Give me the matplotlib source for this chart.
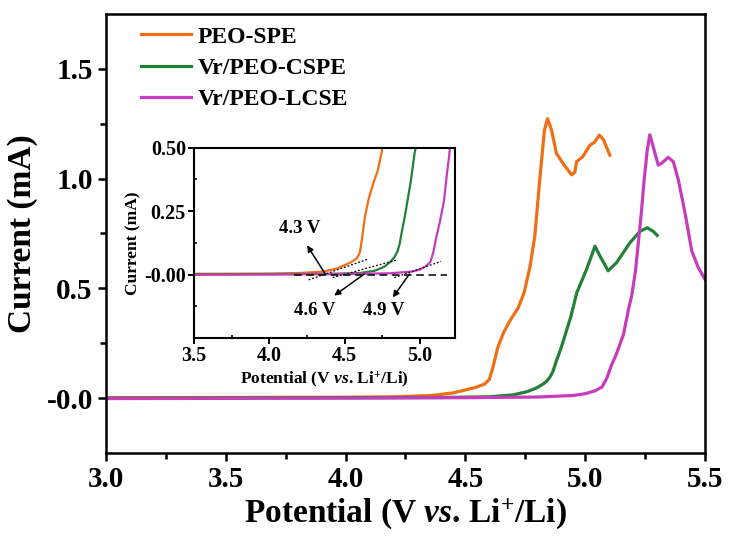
import matplotlib
matplotlib.use('Agg')
import matplotlib.pyplot as plt
from matplotlib.ticker import MultipleLocator, FixedLocator

plt.rcParams['font.family'] = 'Liberation Serif'
plt.rcParams['font.weight'] = 'bold'
plt.rcParams['axes.labelweight'] = 'bold'
plt.rcParams['mathtext.fontset'] = 'custom'
plt.rcParams['mathtext.rm'] = 'Liberation Serif:bold'
plt.rcParams['mathtext.it'] = 'Liberation Serif:italic:bold'
plt.rcParams['mathtext.bf'] = 'Liberation Serif:bold'

# LSV curves (potential in V vs Li+/Li, current in mA)
spe_v = [3.0, 3.5, 4.0, 4.2, 4.36, 4.45, 4.54, 4.58, 4.60, 4.615, 4.635, 4.66,
         4.69, 4.72, 4.745, 4.77, 4.79, 4.81, 4.83, 4.843, 4.86, 4.88, 4.91,
         4.944, 4.957, 4.964, 4.99, 5.02, 5.04, 5.059, 5.076, 5.103]
spe_i = [0.002, 0.003, 0.004, 0.006, 0.012, 0.024, 0.048, 0.064, 0.085, 0.14,
         0.23, 0.30, 0.36, 0.41, 0.48, 0.60, 0.74, 0.99, 1.22, 1.273, 1.22,
         1.115, 1.065, 1.017, 1.03, 1.077, 1.10, 1.152, 1.167, 1.198, 1.178, 1.107]

cspe_v = [3.0, 3.5, 4.0, 4.4, 4.6, 4.7, 4.76, 4.80, 4.83, 4.85, 4.865, 4.88,
          4.90, 4.92, 4.94, 4.965, 5.006, 5.041, 5.062, 5.096, 5.131, 5.187,
          5.229, 5.259, 5.284, 5.301]
cspe_i = [0.0, 0.001, 0.002, 0.003, 0.006, 0.015, 0.03, 0.048, 0.068, 0.09,
          0.12, 0.17, 0.23, 0.30, 0.37, 0.48, 0.587, 0.692, 0.647, 0.58, 0.617,
          0.708, 0.76, 0.776, 0.76, 0.741]

lcse_v = [3.0, 3.5, 4.0, 4.5, 4.8, 4.95, 5.0, 5.04, 5.07, 5.09, 5.11, 5.13,
          5.16, 5.18, 5.195, 5.21, 5.222, 5.235, 5.245, 5.259, 5.27, 5.284,
          5.305, 5.319, 5.347, 5.368, 5.389, 5.417, 5.445, 5.472, 5.5]
lcse_i = [-0.002, -0.001, 0.0, 0.002, 0.005, 0.012, 0.02, 0.033, 0.05, 0.09,
          0.15, 0.2, 0.29, 0.40, 0.47, 0.58, 0.708, 0.85, 0.98, 1.13, 1.2, 1.145,
          1.062, 1.07, 1.097, 1.077, 0.994, 0.843, 0.67, 0.595, 0.542]

labels = ['PEO-SPE', 'Vr/PEO-CSPE', 'Vr/PEO-LCSE']
colors = ['#F06E14', '#238039', '#C63CBC']

# onset tangents (dotted), baseline (dashed) and annotations in the inset
tangent_v = [[4.26, 4.66], [4.42, 4.85], [4.83, 5.14]]
tangent_i = [[-0.021, 0.062], [-0.012, 0.058], [-0.012, 0.052]]
baseline_v = [4.16, 5.18]
onset_text = ['4.3 V', '4.6 V', '4.9 V']
onset_tail = [(4.37, 0.003), (4.63, 0.002), (4.93, 0.002)]
onset_head = [(4.25, 0.115), (4.43, -0.083), (4.82, -0.09)]
onset_label = [(4.2, 0.18), (4.30, -0.14), (4.76, -0.14)]

series = [(spe_v, spe_i), (cspe_v, cspe_i), (lcse_v, lcse_i)]
xlab = r'Potential (V $\mathit{vs}$. Li$^{+}$/Li)'

fig = plt.figure(figsize=(7.29, 5.42), dpi=100)
ax = fig.add_axes([0.1454, 0.1642, 0.8216, 0.81])

for (v, i), lab, c in zip(series, labels, colors):
    ax.plot(v, i, color=c, lw=2.3, label=lab, solid_joinstyle='round')

ax.set_xlim(3.0, 5.5)
ax.set_ylim(-0.25, 1.75)
ax.xaxis.set_major_locator(MultipleLocator(0.5))
ax.xaxis.set_minor_locator(MultipleLocator(0.25))
ax.yaxis.set_major_locator(FixedLocator([0.0, 0.5, 1.0, 1.5]))
ax.yaxis.set_minor_locator(FixedLocator([0.25, 0.75, 1.25]))
ax.set_yticklabels(['-0.0', '0.5', '1.0', '1.5'])
ax.tick_params(which='both', direction='out', width=1.8, labelsize=21)
ax.tick_params(which='major', length=6)
ax.tick_params(which='minor', length=4)
for s in ax.spines.values():
    s.set_linewidth(1.8)
ax.set_xlabel(xlab, fontsize=24, labelpad=2)
ax.set_ylabel('Current (mA)', fontsize=24, labelpad=6)

ax.legend(loc='upper left', bbox_to_anchor=(0.023, 1.021), frameon=False,
          fontsize=17, handlelength=2.1, handletextpad=0.3, labelspacing=0.42)

# inset zoom of the onset region
ins = fig.add_axes([0.2665, 0.3764, 0.3576, 0.3511])
for (v, i), c in zip(series, colors):
    ins.plot(v, i, color=c, lw=1.6, solid_joinstyle='round')
ins.plot(baseline_v, [0, 0], color='k', lw=1.1, ls=(0, (5, 3)))
for tv, ti in zip(tangent_v, tangent_i):
    ins.plot(tv, ti, color='k', lw=0.9, ls=(0, (1.5, 1.5)))
for txt, tail, head, pos in zip(onset_text, onset_tail, onset_head, onset_label):
    ins.annotate('', xy=head, xytext=tail,
                 arrowprops=dict(arrowstyle='-|>', color='k', lw=1.1,
                                 mutation_scale=9, shrinkA=0, shrinkB=0))
    ins.text(pos[0], pos[1], txt, fontsize=13.5, ha='center', va='center')

ins.set_xlim(3.5, 5.233)
ins.set_ylim(-0.25, 0.5)
ins.xaxis.set_major_locator(MultipleLocator(0.5))
ins.xaxis.set_minor_locator(MultipleLocator(0.25))
ins.yaxis.set_major_locator(FixedLocator([0.0, 0.25, 0.5]))
ins.yaxis.set_minor_locator(FixedLocator([-0.125, 0.125, 0.375]))
ins.set_yticklabels(['-0.00', '0.25', '0.50'])
ins.tick_params(which='major', direction='out', length=4, width=1.4, labelsize=14.5, pad=2)
ins.tick_params(which='minor', direction='in', length=2.5, width=1.2)
for s in ins.spines.values():
    s.set_linewidth(1.5)
ins.set_xlabel(xlab, fontsize=12.5, labelpad=2)
ins.set_ylabel('Current (mA)', fontsize=12.5, labelpad=2)

fig.savefig('out.png', dpi=100)
